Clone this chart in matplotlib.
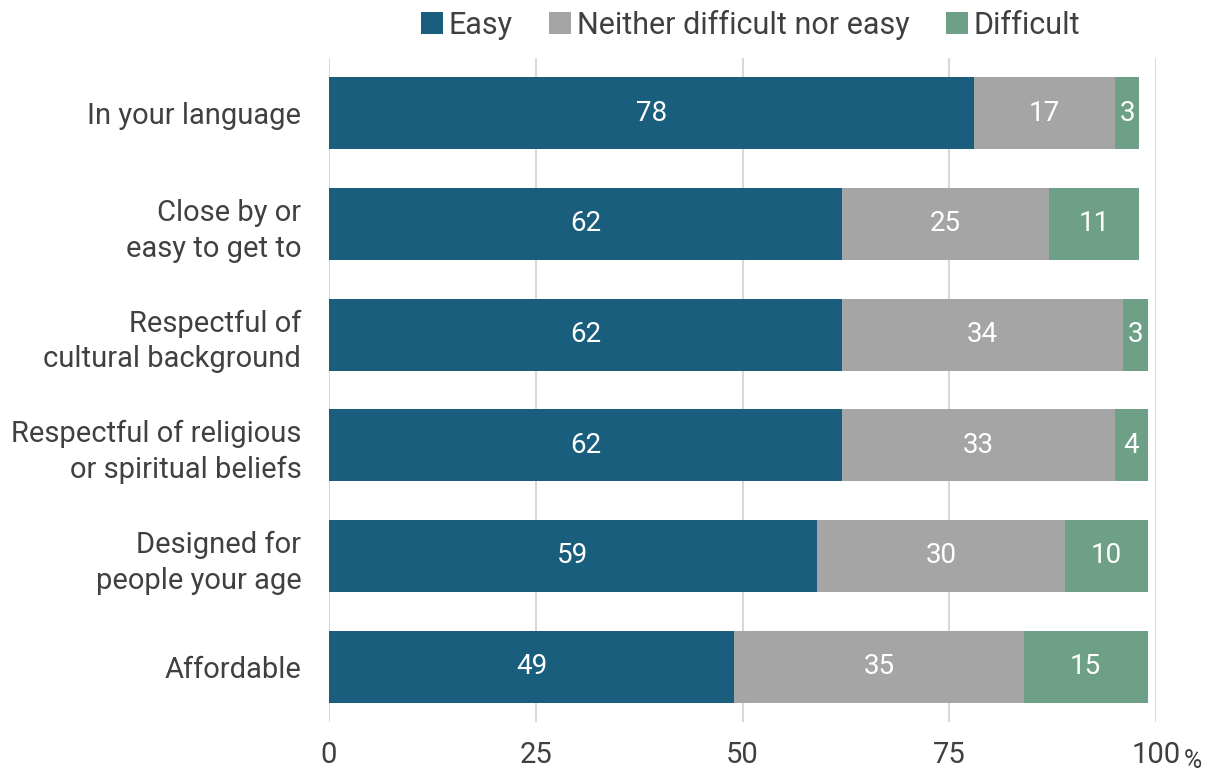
import matplotlib.pyplot as plt
import numpy as np

plt.rcParams['font.family'] = ['Roboto', 'DejaVu Sans']

categories = ['In your language', 'Close by or\neasy to get to', 'Respectful of\ncultural background',
              'Respectful of religious\nor spiritual beliefs', 'Designed for\npeople your age', 'Affordable']
easy = [78, 62, 62, 62, 59, 49]
neither = [17, 25, 34, 33, 30, 35]
difficult = [3, 11, 3, 4, 10, 15]
series_names = ['Easy', 'Neither difficult nor easy', 'Difficult']
colors = ['#195e7d', '#a5a5a5', '#6da086']
ticks = [0, 25, 50, 75, 100]
tick_labels = ['0', '25', '50', '75', '100']

text_color = '#404040'

fig = plt.figure(figsize=(12.12, 7.72), dpi=100)
ax = fig.add_axes([0.2715, 0.0648, 0.6823, 0.8601])

y = np.arange(len(categories))
left = np.zeros(len(categories))
for vals, name, col in zip([easy, neither, difficult], series_names, colors):
    bars = ax.barh(y, vals, left=left, height=0.65, color=col, label=name, zorder=3)
    for b, v in zip(bars, vals):
        ax.text(b.get_x() + b.get_width() / 2, b.get_y() + b.get_height() / 2, str(v),
                ha='center', va='center', color='white', fontsize=20, zorder=4)
    left += np.array(vals)

ax.set_xlim(0, 100)
ax.set_ylim(len(categories) - 0.5, -0.5)
ax.set_xticks(ticks)
ax.set_xticklabels(tick_labels, fontsize=21, color=text_color)
ax.text(103.4, -0.069, '%', transform=ax.get_xaxis_transform(), fontsize=18,
        color=text_color, ha='left', va='baseline')
ax.set_yticks(y)
ax.set_yticklabels(categories, fontsize=21, color=text_color, linespacing=1.35)
ax.tick_params(axis='both', length=0)
ax.tick_params(axis='y', pad=20)
ax.tick_params(axis='x', pad=14)
ax.grid(axis='x', color='#d9d9d9', linewidth=1.5, zorder=0)
for s in ax.spines.values():
    s.set_visible(False)

ax.legend(loc='upper center', bbox_to_anchor=(0.51, 1.091), ncol=3, frameon=False,
          fontsize=22, labelcolor=text_color, handlelength=0.7, handleheight=0.7,
          handletextpad=0.2, columnspacing=1.2, borderaxespad=0)

fig.savefig('out.png', dpi=100)
